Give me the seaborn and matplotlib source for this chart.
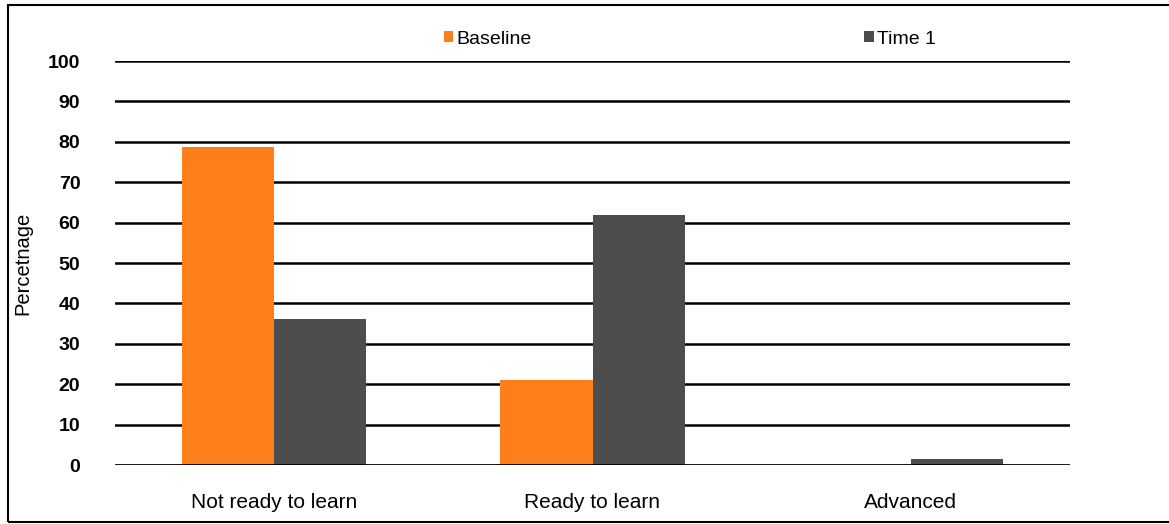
import matplotlib
matplotlib.use("Agg")
import matplotlib.pyplot as plt
import seaborn as sns
import pandas as pd
from matplotlib.patches import Rectangle

categories = ["Not ready to learn", "Ready to learn", "Advanced"]
series = ["Baseline", "Time 1"]
baseline = [78.7, 21.0, 0.0]
time1 = [36.1, 61.9, 1.4]
y_ticks = [0, 10, 20, 30, 40, 50, 60, 70, 80, 90, 100]
palette = ["#FE7F1A", "#4D4D4D"]

df = pd.DataFrame({
    "Category": categories * 2,
    "Series": [series[0]] * 3 + [series[1]] * 3,
    "Value": baseline + time1,
})

sns.set_theme(style="white")
plt.rcParams["font.family"] = ["Liberation Sans", "DejaVu Sans"]
plt.rcParams["text.color"] = "black"
plt.rcParams["axes.labelcolor"] = "black"
plt.rcParams["xtick.color"] = "black"
plt.rcParams["ytick.color"] = "black"

fig = plt.figure(figsize=(11.69, 5.24), dpi=100)
ax = fig.add_axes([115 / 1169, 1 - 465 / 524, 955 / 1169, 404 / 524])

sns.barplot(data=df, x="Category", y="Value", hue="Series", palette=palette,
            width=0.58, saturation=1, linewidth=0, ax=ax, zorder=3)

ax.set_ylim(0, 100)
ax.set_xlim(-0.5, 2.5)
ax.set_yticks(y_ticks)
ax.set_yticklabels([str(t) for t in y_ticks], fontsize=14, fontweight="bold")
ax.tick_params(axis="y", length=0, pad=25)
ax.tick_params(axis="x", length=0, pad=20, labelsize=15)
ax.set_xlabel("")
ax.set_ylabel("Percetnage", fontsize=14.5)
ax.yaxis.set_label_coords(-0.086, 0.5)

for t in y_ticks[1:]:
    ax.axhline(t, color="#000000", lw=1.8, zorder=1)
ax.axhline(0, color="#000000", lw=2.0, zorder=4)

for s in ax.spines.values():
    s.set_visible(False)

handles, labels = ax.get_legend_handles_labels()
ax.legend(handles, labels, loc="upper left", bbox_to_anchor=(434 / 1169, 1 - 21 / 524),
          bbox_transform=fig.transFigure, ncol=2, frameon=False, fontsize=14,
          borderpad=0, handlelength=0.5, handleheight=0.5, handletextpad=0.15,
          columnspacing=17.1)

# outer frame around the figure
fig.patches.append(Rectangle((8 / 1169, 2 / 524), 1170 / 1169, 517 / 524,
                             transform=fig.transFigure, fill=False,
                             edgecolor="black", lw=1.5))

fig.savefig("out.png", dpi=100)
